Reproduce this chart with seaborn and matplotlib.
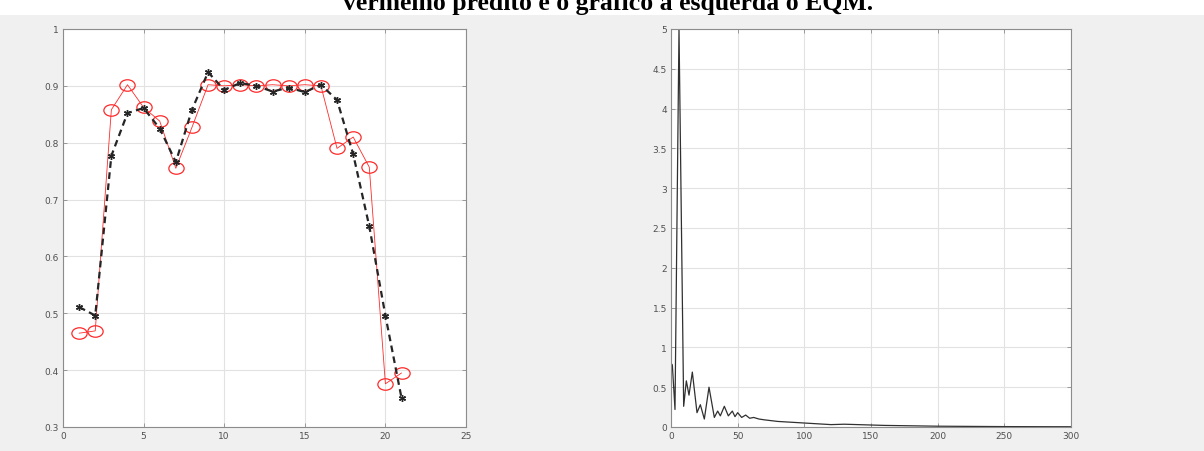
import matplotlib
matplotlib.use("Agg")
import matplotlib.pyplot as plt
import seaborn as sns
import pandas as pd
from matplotlib.patches import Rectangle
from matplotlib.path import Path
from matplotlib.transforms import Affine2D

# ---- data ----
idx = list(range(1, 22))
real_vals = [0.511, 0.496, 0.777, 0.852, 0.861, 0.825, 0.766, 0.858, 0.924, 0.893,
             0.905, 0.900, 0.890, 0.897, 0.889, 0.902, 0.875, 0.780, 0.653, 0.496, 0.351]
pred_vals = [0.465, 0.469, 0.858, 0.902, 0.862, 0.838, 0.755, 0.827, 0.902, 0.900,
             0.902, 0.900, 0.902, 0.900, 0.902, 0.900, 0.790, 0.810, 0.757, 0.376, 0.395]

eqm_x = [0, 1, 3, 6, 9.5, 11.5, 13.5, 16, 19.5, 22, 25, 28.5, 32.5, 35, 37, 40, 43,
         46, 48, 50, 53, 56, 59, 62, 66, 70, 80, 90, 100, 110, 120, 130, 140, 150,
         160, 180, 200, 250, 300]
eqm_y = [0.8, 0.78, 0.22, 5.0, 0.26, 0.58, 0.4, 0.69, 0.18, 0.28, 0.1, 0.5, 0.12,
         0.2, 0.14, 0.26, 0.14, 0.2, 0.13, 0.18, 0.12, 0.15, 0.11, 0.12, 0.1, 0.09,
         0.07, 0.06, 0.05, 0.04, 0.03, 0.035, 0.03, 0.025, 0.02, 0.015, 0.01, 0.005, 0.003]

left_xticks = [0, 5, 10, 15, 20, 25]
left_yticks = [0.3, 0.4, 0.5, 0.6, 0.7, 0.8, 0.9, 1.0]
left_ylabels = ["0.3", "0.4", "0.5", "0.6", "0.7", "0.8", "0.9", "1"]
right_xticks = [0, 50, 100, 150, 200, 250, 300]
right_yticks = [0, 0.5, 1, 1.5, 2, 2.5, 3, 3.5, 4, 4.5, 5]
right_ylabels = ["0", "0.5", "1", "1.5", "2", "2.5", "3", "3.5", "4", "4.5", "5"]

title_text = "vermelho predito e o gráfico à esquerda o EQM."

sns.set_theme(style="whitegrid")
plt.rcParams['font.family'] = ['DejaVu Sans']

W, H = 1204, 452
fig = plt.figure(figsize=(W / 100, H / 100), dpi=100, facecolor="white")
fig.patches.append(Rectangle((0, 0), 1, (H - 16) / H, transform=fig.transFigure,
                             facecolor="#f0f0f0", edgecolor="none", zorder=-10))

ax1 = fig.add_axes([63 / W, 1 - 428 / H, 403 / W, 398 / H])
ax2 = fig.add_axes([671 / W, 1 - 428 / H, 400 / W, 398 / H])

df_real = pd.DataFrame({"x": idx, "y": real_vals})
df_pred = pd.DataFrame({"x": idx, "y": pred_vals})
df_eqm = pd.DataFrame({"x": eqm_x, "y": eqm_y})

ellipse = Path.unit_circle().transformed(Affine2D().scale(1.0, 0.75))

sns.lineplot(data=df_pred, x="x", y="y", ax=ax1, sort=False, estimator=None,
             color="#ff2a2a", lw=0.6, marker=ellipse, markersize=11,
             markerfacecolor="none", markeredgecolor="#ff2a2a", markeredgewidth=0.9)
sns.lineplot(data=df_real, x="x", y="y", ax=ax1, sort=False, estimator=None,
             color="#252525", lw=1.6, linestyle=(0, (3, 2)), marker=(6, 2, 0),
             markersize=5, markeredgecolor="#252525", markeredgewidth=1.0)
sns.lineplot(data=df_eqm, x="x", y="y", ax=ax2, sort=False, estimator=None,
             color="#303030", lw=0.9)

def style(ax, xlim, ylim, xt, yt, yl):
    ax.set_xlim(*xlim)
    ax.set_ylim(*ylim)
    ax.set_xticks(xt)
    ax.set_xticklabels([str(v) for v in xt])
    ax.set_yticks(yt)
    ax.set_yticklabels(yl)
    ax.set_xlabel("")
    ax.set_ylabel("")
    ax.set_facecolor("white")
    ax.grid(True, color="#e2e2e2", lw=0.8)
    for s in ax.spines.values():
        s.set_color("#8c8c8c")
        s.set_linewidth(0.8)
    ax.tick_params(direction="in", length=3, width=0.6, color="#8c8c8c",
                   labelsize=6.5, labelcolor="#505050", top=True, right=True,
                   bottom=True, left=True, pad=3)

style(ax1, (0, 25), (0.3, 1.0), left_xticks, left_yticks, left_ylabels)
style(ax2, (0, 300), (0, 5), right_xticks, right_yticks, right_ylabels)

fig.text(0.505, 1 - 10 / H, title_text, ha="center", va="baseline",
         fontsize=18.5, fontweight="bold", family=["Liberation Serif", "DejaVu Serif"],
         color="black", zorder=5)

fig.savefig("out.png", dpi=100, facecolor=fig.get_facecolor())
